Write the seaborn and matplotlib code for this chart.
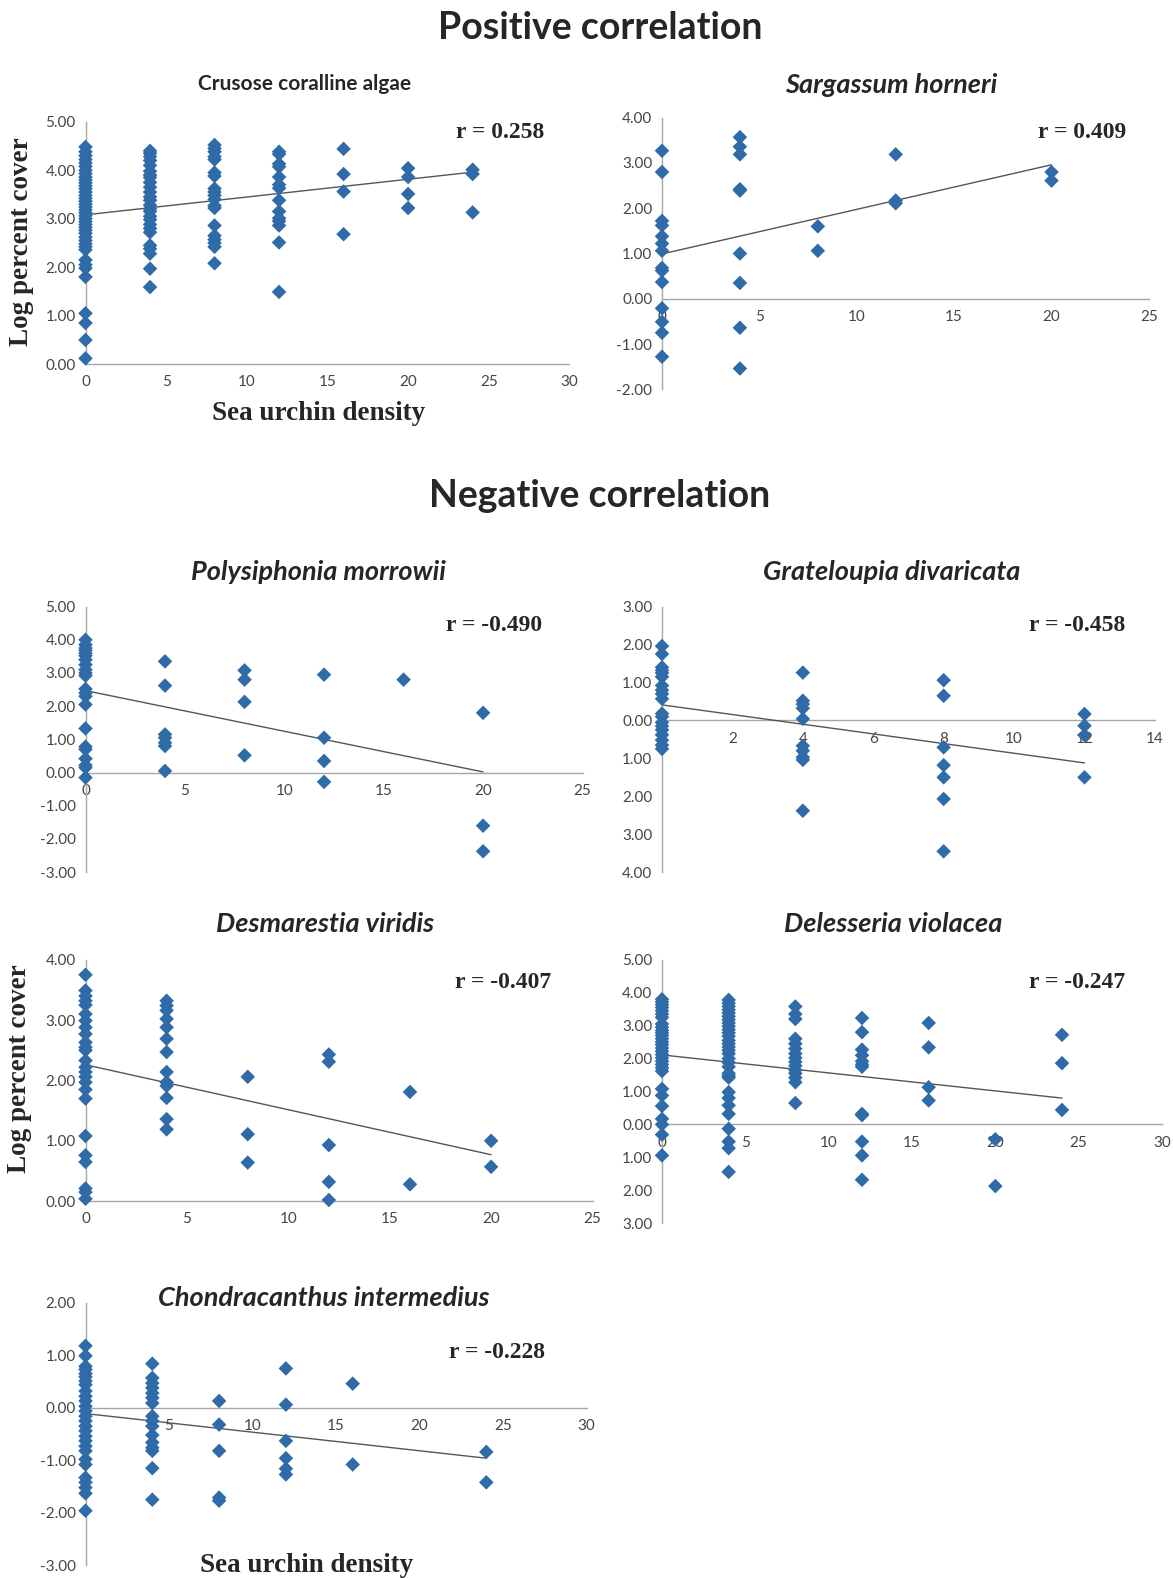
import numpy as np
import pandas as pd
import seaborn as sns
import matplotlib.pyplot as plt

# ---- data (log percent cover by sea urchin density) ----
coral_x0 = [4.48, 4.38, 4.30, 4.22, 4.15, 4.08, 4.00, 3.93, 3.86, 3.80, 3.74, 3.68, 3.62, 3.55,
            3.48, 3.42, 3.36, 3.30, 3.24, 3.18, 3.12, 3.06, 3.00, 2.94, 2.88, 2.82, 2.76, 2.70,
            2.62, 2.55, 2.48, 2.42, 2.36, 2.15, 2.05, 1.98, 1.80, 1.05, 0.85, 0.50, 0.12]
coral_x4 = [4.40, 4.35, 4.28, 4.20, 4.10, 3.98, 3.90, 3.85, 3.75, 3.65, 3.55, 3.45, 3.38, 3.28,
            3.20, 3.15, 3.05, 2.98, 2.88, 2.80, 2.72, 2.45, 2.38, 2.28, 1.97, 1.59]
coral_x8 = [4.52, 4.45, 4.38, 4.28, 4.22, 3.95, 3.88, 3.62, 3.55, 3.48, 3.40, 3.27, 3.22, 2.86,
            2.65, 2.57, 2.50, 2.42, 2.08]
coral_x12 = [4.38, 4.33, 4.13, 4.07, 3.86, 3.70, 3.63, 3.38, 3.15, 3.01, 2.95, 2.86, 2.51, 1.49]
coral_x16 = [4.44, 3.92, 3.56, 2.68]
coral_x20 = [4.04, 3.86, 3.51, 3.22]
coral_x24 = [4.01, 3.92, 3.13]

sarg_x0 = [3.27, 2.80, 1.72, 1.62, 1.38, 1.22, 1.06, 0.68, 0.62, 0.37, -0.21, -0.51, -0.75, -1.28]
sarg_x4 = [3.57, 3.36, 3.19, 2.42, 2.39, 1.00, 0.35, -0.64, -1.54]
sarg_x8 = [1.60, 1.06]
sarg_x12 = [3.19, 2.17, 2.11]
sarg_x20 = [2.80, 2.61]

poly_x0 = [4.00, 3.85, 3.75, 3.68, 3.60, 3.52, 3.40, 3.25, 3.10, 3.00, 2.92, 2.52, 2.40, 2.30,
           2.05, 1.33, 0.78, 0.70, 0.42, 0.22, 0.15, -0.15]
poly_x4 = [3.35, 2.62, 1.15, 1.05, 0.90, 0.80, 0.05]
poly_x8 = [3.08, 2.80, 2.13, 0.52]
poly_x12 = [2.95, 1.05, 0.35, -0.28]
poly_x16 = [2.80]
poly_x20 = [1.80, -1.60, -2.37]

grat_x0 = [1.96, 1.75, 1.40, 1.32, 1.25, 1.15, 0.92, 0.80, 0.70, 0.57, 0.18, 0.10, -0.05,
           -0.15, -0.25, -0.38, -0.52, -0.65, -0.75]
grat_x4 = [1.26, 0.52, 0.43, 0.32, 0.04, -0.67, -0.80, -0.97, -1.04, -2.38]
grat_x8 = [1.06, 0.65, -0.71, -1.18, -1.50, -2.07, -3.45]
grat_x12 = [0.17, -0.14, -0.39, -1.50]

desm_x0 = [3.75, 3.49, 3.40, 3.32, 3.25, 3.10, 2.99, 2.88, 2.77, 2.63, 2.55, 2.50, 2.33, 2.22,
           2.14, 2.06, 1.97, 1.85, 1.70, 1.08, 0.76, 0.65, 0.21, 0.15, 0.04]
desm_x4 = [3.32, 3.24, 3.16, 3.02, 2.88, 2.69, 2.47, 2.14, 1.97, 1.91, 1.71, 1.36, 1.19]
desm_x8 = [2.06, 1.11, 0.64]
desm_x12 = [2.43, 2.31, 0.93, 0.32, 0.02]
desm_x16 = [1.81, 0.28]
desm_x20 = [1.00, 0.57]

dele_x0 = [3.80, 3.72, 3.64, 3.55, 3.45, 3.35, 3.25, 3.05, 2.95, 2.85, 2.78, 2.70, 2.60, 2.50,
           2.42, 2.32, 2.22, 2.12, 2.02, 1.92, 1.82, 1.72, 1.62, 1.08, 0.88, 0.56, 0.17, 0.00,
           -0.31, -0.94]
dele_x4 = [3.78, 3.68, 3.58, 3.48, 3.38, 3.28, 3.18, 3.08, 2.98, 2.88, 2.78, 2.68, 2.55, 2.45,
           2.35, 2.25, 2.15, 2.00, 1.88, 1.75, 1.55, 1.48, 1.42, 0.98, 0.80, 0.58, 0.32, -0.13,
           -0.52, -0.72, -1.44]
dele_x8 = [3.58, 3.35, 3.20, 2.60, 2.45, 2.30, 2.15, 2.02, 1.90, 1.78, 1.65, 1.55, 1.42, 1.28, 0.65]
dele_x12 = [3.23, 2.80, 2.27, 2.10, 1.92, 1.82, 1.75, 0.32, 0.28, -0.52, -0.94, -1.68]
dele_x16 = [3.08, 2.34, 1.13, 0.73]
dele_x20 = [-0.45, -1.87]
dele_x24 = [2.72, 1.86, 0.44]

chon_x0 = [1.18, 0.99, 0.79, 0.73, 0.65, 0.59, 0.51, 0.44, 0.32, 0.22, 0.13, 0.03, -0.06, -0.16,
           -0.25, -0.35, -0.44, -0.54, -0.63, -0.73, -0.82, -0.98, -1.08, -1.33, -1.42, -1.52,
           -1.63, -1.96]
chon_x4 = [0.84, 0.57, 0.47, 0.38, 0.28, 0.19, 0.09, -0.16, -0.25, -0.35, -0.52, -0.66, -0.76,
           -0.82, -1.15, -1.75]
chon_x8 = [0.13, -0.32, -0.82, -1.71, -1.77]
chon_x12 = [0.75, 0.06, -0.63, -0.96, -1.16, -1.27]
chon_x16 = [0.46, -1.08]
chon_x24 = [-0.84, -1.42]

# trendline end points as drawn in the reference
trend = {
    "coral": ([0, 24], [3.08, 3.96]),
    "sarg": ([0, 20], [0.99, 2.96]),
    "poly": ([0, 20], [2.47, 0.02]),
    "grat": ([0, 12], [0.41, -1.12]),
    "desm": ([0, 20], [2.26, 0.77]),
    "dele": ([0, 24], [2.11, 0.80]),
    "chon": ([0, 24], [-0.11, -0.96]),
}
r_values = {"coral": "0.258", "sarg": "0.409", "poly": "-0.490", "grat": "-0.458",
            "desm": "-0.407", "dele": "-0.247", "chon": "-0.228"}


def to_frame(groups):
    rows = []
    for dens, vals in groups:
        rows += [(dens, v) for v in vals]
    return pd.DataFrame(rows, columns=["density", "cover"])


data = {
    "coral": to_frame([(0, coral_x0), (4, coral_x4), (8, coral_x8), (12, coral_x12),
                       (16, coral_x16), (20, coral_x20), (24, coral_x24)]),
    "sarg": to_frame([(0, sarg_x0), (4, sarg_x4), (8, sarg_x8), (12, sarg_x12), (20, sarg_x20)]),
    "poly": to_frame([(0, poly_x0), (4, poly_x4), (8, poly_x8), (12, poly_x12),
                      (16, poly_x16), (20, poly_x20)]),
    "grat": to_frame([(0, grat_x0), (4, grat_x4), (8, grat_x8), (12, grat_x12)]),
    "desm": to_frame([(0, desm_x0), (4, desm_x4), (8, desm_x8), (12, desm_x12),
                      (16, desm_x16), (20, desm_x20)]),
    "dele": to_frame([(0, dele_x0), (4, dele_x4), (8, dele_x8), (12, dele_x12),
                      (16, dele_x16), (20, dele_x20), (24, dele_x24)]),
    "chon": to_frame([(0, chon_x0), (4, chon_x4), (8, chon_x8), (12, chon_x12),
                      (16, chon_x16), (24, chon_x24)]),
}

sns.set_style("white")
plt.rcParams['font.family'] = ['Lato', 'DejaVu Sans']

W, H = 1173, 1578
fig = plt.figure(figsize=(W / 100, H / 100), dpi=100)

BLUE = "#2F6BA8"
GREY = "#A6A6A6"
TXT = "#454545"


def fx(x):
    return x / W


def fy(y):
    return 1 - y / H


# panel boxes in pixels: left, right, top, bottom ; with axis ranges
panels = [
    ("coral", 85.5, 569.4, 121.7, 364.2, (0, 30, 5), (0, 5, 1), True),
    ("sarg", 662.0, 1148.9, 117.7, 389.3, (0, 25, 5), (-2, 4, 1), True),
    ("poly", 85.5, 582.5, 606.6, 872.2, (0, 25, 5), (-3, 5, 1), True),
    ("grat", 662.0, 1154.9, 606.6, 872.2, (0, 14, 2), (-4, 3, 1), False),
    ("desm", 85.5, 592.5, 959.7, 1201.2, (0, 25, 5), (0, 4, 1), True),
    ("dele", 662.0, 1162.0, 959.7, 1223.3, (0, 30, 5), (-3, 5, 1), False),
    ("chon", 85.5, 586.5, 1302.8, 1565.3, (0, 30, 5), (-3, 2, 1), True),
]

for key, l, r, t, b, xr, yr, minus in panels:
    ax = fig.add_axes([fx(l), fy(b), fx(r) - fx(l), (b - t) / H])
    df = data[key]
    sns.scatterplot(data=df, x="density", y="cover", ax=ax, marker="D", s=55,
                    color=BLUE, edgecolor="none", linewidth=0, zorder=3, clip_on=False)
    tx, ty = trend[key]
    sns.lineplot(x=tx, y=ty, ax=ax, color="#555555", linewidth=1.0, zorder=2)
    ax.set_xlim(xr[0], xr[1])
    ax.set_ylim(yr[0], yr[1])
    ax.set_xticks(np.arange(xr[0], xr[1] + 0.1, xr[2]))
    yt = np.arange(yr[0], yr[1] + 0.1, yr[2])
    ax.set_yticks(yt)
    # two panels in the original lost their minus signs on the y labels
    if minus:
        ax.set_yticklabels([f"{v:.2f}" for v in yt])
    else:
        ax.set_yticklabels([f"{abs(v):.2f}" for v in yt])
    ax.set_xticklabels([f"{int(v)}" for v in ax.get_xticks()])
    ax.set_xlabel("")
    ax.set_ylabel("")
    ax.patch.set_alpha(0)
    for side in ["top", "right"]:
        ax.spines[side].set_visible(False)
    ax.spines["bottom"].set_position(("data", 0))
    for side in ["left", "bottom"]:
        ax.spines[side].set_color(GREY)
        ax.spines[side].set_linewidth(1.0)
        ax.spines[side].set_zorder(1)
    ax.tick_params(axis="both", which="both", direction="out", length=4, width=1,
                   color=GREY, labelcolor=TXT, labelsize=11, pad=3)
    ax.tick_params(axis="x", pad=4)

# r annotations
r_pos = {"coral": (500, 132), "sarg": (1082, 132), "poly": (494, 625), "grat": (1077, 625),
         "desm": (503, 983), "dele": (1077, 983), "chon": (497, 1353)}
for key, (x, y) in r_pos.items():
    fig.text(fx(x), fy(y), f"r = {r_values[key]}", ha="center", va="center",
             family="Liberation Serif", weight="bold", fontsize=17)

# panel titles
fig.text(fx(305), fy(83.5), "Crusose coralline algae", ha="center", va="center",
         weight="bold", fontsize=15)
titles = [("Sargassum horneri", 891, 85), ("Polysiphonia morrowii", 318, 571.5),
          ("Grateloupia divaricata", 892, 571.5), ("Desmarestia viridis", 325, 924),
          ("Delesseria violacea", 893, 924), ("Chondracanthus intermedius", 324, 1297.5)]
for txt, x, y in titles:
    fig.text(fx(x), fy(y), txt, ha="center", va="center", weight="bold",
             style="italic", fontsize=19.5)

# section headings
fig.text(fx(600), fy(28), "Positive correlation", ha="center", va="center",
         weight="bold", fontsize=27)
fig.text(fx(600), fy(496), "Negative correlation", ha="center", va="center",
         weight="bold", fontsize=27)

# axis labels
for x, y in [(22, 241.5), (20, 1069)]:
    fig.text(fx(x), fy(y), "Log percent cover", ha="center", va="center", rotation=90,
             family="Liberation Serif", weight="bold", fontsize=19.5)
for x, y in [(319, 413.5), (307, 1565)]:
    fig.text(fx(x), fy(y), "Sea urchin density", ha="center", va="center",
             family="Liberation Serif", weight="bold", fontsize=19.5)

plt.savefig("out.png", dpi=100)
